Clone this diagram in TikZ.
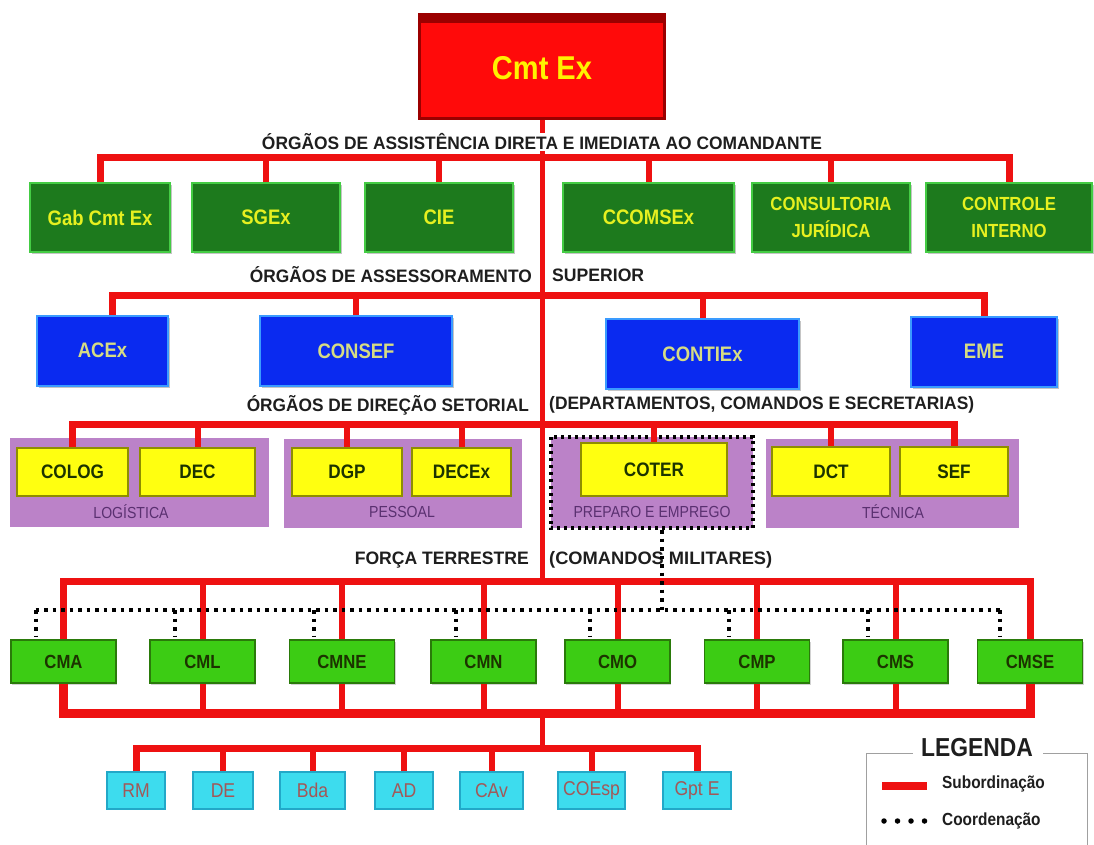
\documentclass[tikz,border=0pt]{standalone}
\usepackage{fontspec}
\usepackage{graphicx}
\setmainfont{Liberation Sans}
\newfontfamily\nar[FakeStretch=0.88]{Liberation Sans}
\usetikzlibrary{calc,shadows}
\definecolor{redline}{HTML}{EE1111}
\definecolor{cmtred}{HTML}{FF0A0A}
\definecolor{cmtdark}{HTML}{9B0000}
\definecolor{dkgreen}{HTML}{1D7A1D}
\definecolor{dkgreenb}{HTML}{44CC44}
\definecolor{ylwtxt}{HTML}{E6F020}
\definecolor{bluefill}{HTML}{0A2AF0}
\definecolor{blueb}{HTML}{3A9BFF}
\definecolor{bluetxt}{HTML}{D6DC84}
\definecolor{yfill}{HTML}{FFFF10}
\definecolor{yborder}{HTML}{8E8E00}
\definecolor{purp}{HTML}{BB82C8}
\definecolor{purptxt}{HTML}{5A3070}
\definecolor{cmgreen}{HTML}{3CCC14}
\definecolor{cmborder}{HTML}{2A7A0A}
\definecolor{cmtxt}{HTML}{1C3300}
\definecolor{cyanfill}{HTML}{3DDCEE}
\definecolor{cyanb}{HTML}{22A8C8}
\definecolor{cyantxt}{HTML}{A25858}
\definecolor{headtxt}{HTML}{1E1E1E}
\definecolor{leggray}{HTML}{A0A0A0}
\newcommand{\hfit}[2]{\resizebox{#1}{\height}{#2}}
\tikzset{
  basebox/.style={inner sep=0pt, align=center, font=\nar\bfseries},
  rowone/.style={basebox, draw=dkgreenb, fill=dkgreen, line width=2pt, text=ylwtxt,
    minimum height=68, drop shadow={opacity=0.45, shadow xshift=1.5pt, shadow yshift=-2pt},
    font=\nar\bfseries\fontsize{21}{26}\selectfont},
  bluebox/.style={basebox, draw=blueb, fill=bluefill, line width=2pt, text=bluetxt,
    minimum height=70, drop shadow={opacity=0.45, shadow xshift=1.5pt, shadow yshift=-2pt},
    font=\nar\bfseries\fontsize{21}{26}\selectfont},
  ybox/.style={basebox, draw=yborder, fill=yfill, line width=1.8pt, text=cmtxt,
    minimum height=48, font=\nar\bfseries\fontsize{19.5}{22}\selectfont},
  grp/.style={inner sep=0pt, fill=purp},
  grplabel/.style={inner sep=0pt, text=purptxt, font=\nar\fontsize{16}{18}\selectfont},
  cmbox/.style={basebox, draw=cmborder, fill=cmgreen, line width=1.8pt, text=cmtxt,
    minimum width=105, minimum height=43, drop shadow={opacity=0.35, shadow xshift=1pt, shadow yshift=-1.5pt},
    font=\nar\bfseries\fontsize{19}{22}\selectfont},
  cybox/.style={basebox, draw=cyanb, fill=cyanfill, line width=1.5pt, text=cyantxt,
    minimum height=37, font=\nar\fontsize{20}{22}\selectfont},
  heading/.style={inner sep=1pt, text=headtxt, font=\nar\bfseries\fontsize{18}{20}\selectfont},
  sub/.style={draw=redline, line width=6pt},
  bus/.style={draw=redline, line width=7pt, line join=miter},
  trunk/.style={draw=redline, line width=5pt},
  coord/.style={draw=black, line width=4pt, line cap=butt, dash pattern=on 3.5pt off 5pt},
  legdots/.style={draw=black, line width=5.5pt, line cap=round, dash pattern=on 0pt off 13.5pt},
  legtxt/.style={inner sep=0pt, text=headtxt, font=\nar\bfseries\fontsize{17.5}{20}\selectfont},
  legline/.style={draw=leggray, line width=1pt}
}
\begin{document}
\begin{tikzpicture}[x=1pt,y=-1pt]
\useasboundingbox (0,0) rectangle (1094,845);
\fill[white] (0,0) rectangle (1094,845);

% ---------- coordinates of buses
\coordinate (b1) at (542,158);
\coordinate (b2) at (542,295);
\coordinate (b3) at (542,424);
\coordinate (b4) at (542,581);
\coordinate (bb) at (542,713);
\coordinate (b5) at (542,748);
\coordinate (dotL) at (36,610);

% ---------- Cmt Ex
\node[basebox, draw=cmtdark, fill=cmtred, line width=2.5pt, minimum width=245, minimum height=104,
  text=yellow, font=\nar\bfseries\fontsize{33}{36}\selectfont] (cmt) at (542,66.5) {};
\fill[cmtdark] (cmt.north west) rectangle ($(cmt.north east)+(0,10)$);
\node[inner sep=0pt, text=yellow, font=\nar\bfseries\fontsize{33}{36}\selectfont] (cmttxt) at (542,68) {Cmt Ex};

% ---------- trunk
\draw[trunk] (cmt.south) -- (b4);
\draw[trunk] (bb) -- (b5);

% ---------- row 1
\node[rowone, minimum width=140] (gab) at (100,217.5) {Gab Cmt Ex};
\node[rowone, minimum width=148] (sgex) at (266,217.5) {SGEx};
\node[rowone, minimum width=148] (cie) at (439,217.5) {CIE};
\node[rowone, minimum width=171] (ccom) at (648.5,217.5) {CCOMSEx};
\node[rowone, minimum width=158, font=\nar\bfseries\fontsize{19}{27}\selectfont] (cons) at (831,217.5) {CONSULTORIA\\JURÍDICA};
\node[rowone, minimum width=166, font=\nar\bfseries\fontsize{19}{27}\selectfont] (ctrl) at (1009,217.5) {CONTROLE\\INTERNO};
\draw[bus] (gab.north) |- (b1) -| (ctrl.north);
\foreach \n in {sgex,cie,ccom,cons} { \draw[sub] (\n.north) -- (\n.north |- b1); }
\node[heading, fill=white] (h1) at (542,142) {\hfit{560pt}{ÓRGÃOS DE ASSISTÊNCIA DIRETA E IMEDIATA AO COMANDANTE}};

% ---------- row 2 (blue)
\node[bluebox, minimum width=131] (acex) at (102.5,350.5) {ACEx};
\node[bluebox, minimum width=192] (consef) at (356,351) {CONSEF};
\node[bluebox, minimum width=193] (contiex) at (702.5,354) {CONTIEx};
\node[bluebox, minimum width=146] (eme) at (984,351.5) {EME};
\coordinate (acexd) at ($(acex.north)+(10,0)$);
\draw[bus] (acexd) |- (b2) -| (eme.north);
\foreach \n in {consef,contiex} { \draw[sub] (\n.north) -- (\n.north |- b2); }
\node[heading, anchor=east] (h2a) at (533,275) {\hfit{282pt}{ÓRGÃOS DE ASSESSORAMENTO}};
\node[heading, anchor=west] (h2b) at (551,275) {\hfit{92pt}{SUPERIOR}};

% ---------- row 3 (groups)
\node[grp, minimum width=259, minimum height=89] (glog) at (139.5,482.5) {};
\node[grp, minimum width=238, minimum height=89] (gpes) at (403,483.5) {};
\node[grp, minimum width=202, minimum height=91] (gprep) at (652,482.5) {};
\node[grp, minimum width=253, minimum height=89] (gtec) at (892.5,483.5) {};
\draw[coord, line width=3.6pt, dash pattern=on 3pt off 4pt] (gprep.north west) rectangle (gprep.south east);
\node[grplabel] (llog) at (131,512) {LOGÍSTICA};
\node[grplabel] (lpes) at (402,512) {PESSOAL};
\node[grplabel] (lprep) at (652,512) {PREPARO E EMPREGO};
\node[grplabel] (ltec) at (893,512) {TÉCNICA};
\node[ybox, minimum width=111] (colog) at (72.5,472) {COLOG};
\node[ybox, minimum width=115] (dec) at (197.5,472) {DEC};
\node[ybox, minimum width=110] (dgp) at (347,472) {DGP};
\node[ybox, minimum width=99] (decex) at (461.5,472) {DECEx};
\node[ybox, minimum width=146, minimum height=53] (coter) at (654,469.5) {COTER};
\node[ybox, minimum width=118, minimum height=49] (dct) at (831,471.5) {DCT};
\node[ybox, minimum width=108, minimum height=49] (sef) at (954,471.5) {SEF};
\draw[bus] (colog.north) |- (b3) -| (sef.north);
\foreach \n in {dec,dgp,decex,coter,dct} { \draw[sub] (\n.north) -- (\n.north |- b3); }
\node[heading, anchor=east] (h3a) at (530,405) {\hfit{282pt}{ÓRGÃOS DE DIREÇÃO SETORIAL}};
\node[heading, anchor=west] (h3b) at (548,405) {\hfit{425pt}{(DEPARTAMENTOS, COMANDOS E SECRETARIAS)}};

% ---------- row 4 (military commands)
\node[cmbox] (cma) at (63.5,661.5) {CMA};
\node[cmbox] (cml) at (202.5,661.5) {CML};
\node[cmbox] (cmne) at (342,661.5) {CMNE};
\node[cmbox] (cmn) at (483.5,661.5) {CMN};
\node[cmbox] (cmo) at (617.5,661.5) {CMO};
\node[cmbox] (cmp) at (757,661.5) {CMP};
\node[cmbox] (cms) at (895.5,661.5) {CMS};
\node[cmbox] (cmse) at (1030,661.5) {CMSE};
\draw[bus] (cma.north) |- (b4) -| (cmse.north);
\draw[bus, line width=9pt] (cma.south) |- (bb) -| (cmse.south);
\foreach \n in {cml,cmne,cmn,cmo,cmp,cms} {
  \draw[sub] (\n.north) -- (\n.north |- b4);
  \draw[sub] (\n.south) -- (\n.south |- bb);
}
\node[heading, anchor=east] (h4a) at (530,560) {\hfit{174pt}{FORÇA TERRESTRE}};
\node[heading, anchor=west] (h4b) at (548,560) {\hfit{223pt}{(COMANDOS MILITARES)}};

% coordination (dotted)
\draw[coord] ($(gprep.south)+(10,2)$) -- ($(gprep.south |- dotL)+(10,0)$);
\draw[coord] ($(cma.north |- dotL)+(-28,0)$) -- ($(cmse.north |- dotL)+(-30,0)$);
\foreach \n in {cma,cml,cmne,cmn,cmo,cmp,cms} {
  \draw[coord] ($(\n.north |- dotL)+(-28,0)$) -- ($(\n.north)+(-28,-3)$);
}
\draw[coord] ($(cmse.north |- dotL)+(-30,0)$) -- ($(cmse.north)+(-30,-3)$);

% ---------- row 5 (cyan)
\node[cybox, minimum width=58] (rm) at (136,790.5) {RM};
\node[cybox, minimum width=60] (de) at (223,790.5) {DE};
\node[cybox, minimum width=65] (bda) at (312.5,790.5) {Bda};
\node[cybox, minimum width=58] (ad) at (404,790.5) {AD};
\node[cybox, minimum width=63] (cav) at (491.5,790.5) {CAv};
\node[cybox, minimum width=67] (coesp) at (591.5,790.5) {COEsp};
\node[cybox, minimum width=68] (gpte) at (697,790.5) {Gpt E};
\draw[bus] (rm.north) |- (b5) -| (gpte.north);
\foreach \n in {de,bda,ad,cav,coesp} { \draw[sub] (\n.north) -- (\n.north |- b5); }

% ---------- legend
\node[inner sep=0pt, text=headtxt, font=\nar\bfseries\fontsize{26}{28}\selectfont] (leg) at (977,748) {LEGENDA};
\draw[legline] ($(leg.west)+(-8,5)$) -- (866,753) -- (866,845);
\draw[legline] ($(leg.east)+(10,5)$) -- (1087,753) -- (1087,845);
\coordinate (lsa) at (882,786);
\coordinate (lsb) at (927,786);
\draw[redline, line width=8pt] (lsa) -- (lsb);
\coordinate (lca) at (884,821);
\coordinate (lcb) at (926,821);
\draw[legdots] (lca) -- (lcb);
\node[legtxt, anchor=west] (lsub) at (942,784) {Subordinação};
\node[legtxt, anchor=west] (lcoo) at (942,821) {Coordenação};
\end{tikzpicture}
\end{document}
